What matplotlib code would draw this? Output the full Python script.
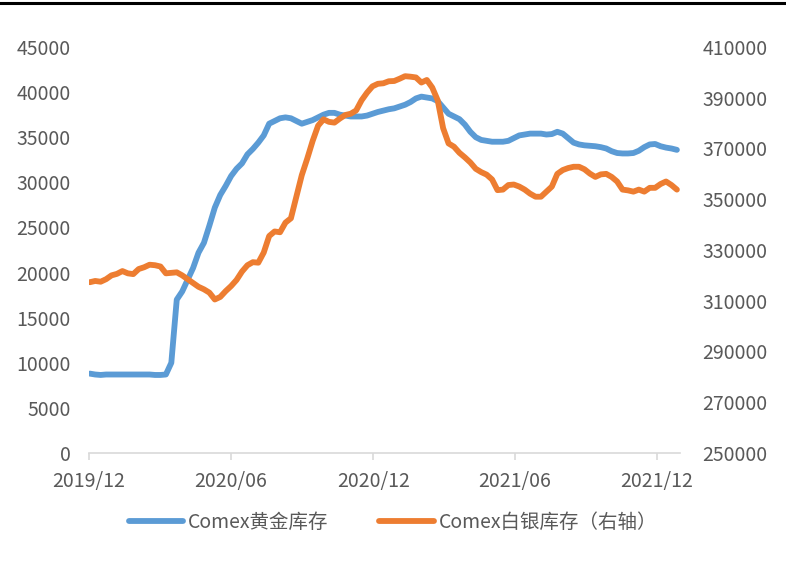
import matplotlib
matplotlib.use("Agg")
import matplotlib.pyplot as plt
from matplotlib.lines import Line2D
import pandas as pd

plt.rcParams['font.family'] = ['Noto Sans CJK SC', 'DejaVu Sans']

# weekly observation dates
dates = pd.date_range('2019-12-02', periods=109, freq='7D')

gold = [
    8800, 8700, 8650, 8700, 8700, 8700, 8700, 8700, 8700, 8700,
    8700, 8700, 8650, 8650, 8700, 10000, 17000, 17900, 19200, 20500,
    22200, 23300, 25200, 27200, 28600, 29600, 30700, 31500, 32100, 33100,
    33700, 34400, 35200, 36500, 36800, 37100, 37200, 37100, 36800, 36500,
    36700, 36900, 37200, 37500, 37700, 37700, 37500, 37400, 37300, 37300,
    37300, 37400, 37600, 37800, 37950, 38100, 38200, 38400, 38600, 38900,
    39300, 39500, 39400, 39300, 39000, 38300, 37600, 37300, 37000, 36400,
    35600, 35000, 34700, 34600, 34500, 34500, 34500, 34600, 34900, 35200,
    35300, 35400, 35400, 35400, 35300, 35350, 35600, 35400, 34900, 34400,
    34200, 34100, 34050, 34000, 33900, 33750, 33450, 33250, 33200, 33200,
    33250, 33500, 33900, 34200, 34250, 34000, 33850, 33750, 33600,
]

silver = [
    317300, 317800, 317500, 318500, 320000, 320600, 321700, 320800, 320500, 322500,
    323200, 324200, 324000, 323500, 320800, 321000, 321200, 320000, 318500, 317000,
    315500, 314500, 313200, 310500, 311500, 313800, 315800, 318200, 321500, 324000,
    325200, 325000, 329000, 335500, 337300, 337000, 340800, 342500, 351000, 359500,
    366000, 373000, 379000, 381500, 380500, 380200, 381800, 383200, 383700, 385000,
    389000, 392000, 394500, 395500, 395700, 396500, 396600, 397500, 398500, 398300,
    398000, 396000, 397000, 394000, 389000, 378000, 372000, 370700, 368300, 366500,
    364500, 362000, 360700, 359700, 357800, 353600, 353800, 355600, 355800, 355000,
    353800, 352200, 351000, 351000, 353000, 355000, 360000, 361500, 362300, 362800,
    362800, 361800, 360100, 358800, 359800, 360000, 358800, 357000, 353800, 353500,
    353000, 353800, 353000, 354500, 354500, 356000, 357000, 355600, 353800,
]

gold_label = 'Comex黄金库存'
silver_label = 'Comex白银库存（右轴）'
x_ticks = ['2019-12-01', '2020-06-01', '2020-12-01', '2021-06-01', '2021-12-01']
x_tick_labels = ['2019/12', '2020/06', '2020/12', '2021/06', '2021/12']
left_ticks = list(range(0, 45001, 5000))
right_ticks = list(range(250000, 410001, 20000))

BLUE = '#5B9BD5'
ORANGE = '#ED7D31'
TXT = '#595959'
AX = '#D9D9D9'
FS = 14

fig = plt.figure(figsize=(7.86, 5.66), dpi=100)
ax = fig.add_axes([89/786, 1-453/566, (680-89)/786, (453-47)/566])
ax2 = ax.twinx()

l1, = ax.plot(dates, gold, color=BLUE, lw=4.2, solid_capstyle='round', solid_joinstyle='round', label=gold_label)
l2, = ax2.plot(dates, silver, color=ORANGE, lw=4.2, solid_capstyle='round', solid_joinstyle='round', label=silver_label)

ax.set_xlim(pd.Timestamp('2019-12-01'), pd.Timestamp('2021-12-31'))
ax.set_ylim(0, 45000)
ax2.set_ylim(250000, 410000)

ax.set_xticks([pd.Timestamp(t) for t in x_ticks])
ax.set_xticklabels(x_tick_labels)
ax.set_yticks(left_ticks)
ax.set_yticklabels([str(v) for v in left_ticks])
ax2.set_yticks(right_ticks)
ax2.set_yticklabels([str(v) for v in right_ticks])

for a in (ax, ax2):
    for s in a.spines.values():
        s.set_visible(False)
ax.spines['bottom'].set_visible(True)
ax.spines['bottom'].set_color(AX)
ax.spines['bottom'].set_linewidth(1.2)

ax.tick_params(axis='x', colors=AX, labelcolor=TXT, labelsize=FS, length=5, width=1.2, pad=8)
ax.tick_params(axis='y', length=0, labelcolor=TXT, labelsize=FS, pad=13)
ax2.tick_params(axis='y', length=0, labelcolor=TXT, labelsize=FS, pad=16)

fig.legend(handles=[l1, l2], loc='center', bbox_to_anchor=(0.5, 1-522/566), ncol=2,
           frameon=False, fontsize=FS, labelcolor=TXT, handlelength=2.8,
           handletextpad=0.25, columnspacing=2.6)

fig.add_artist(Line2D([0, 1], [1-3/566, 1-3/566], color='black', lw=2.2, transform=fig.transFigure))

fig.savefig('out.png', dpi=100)
